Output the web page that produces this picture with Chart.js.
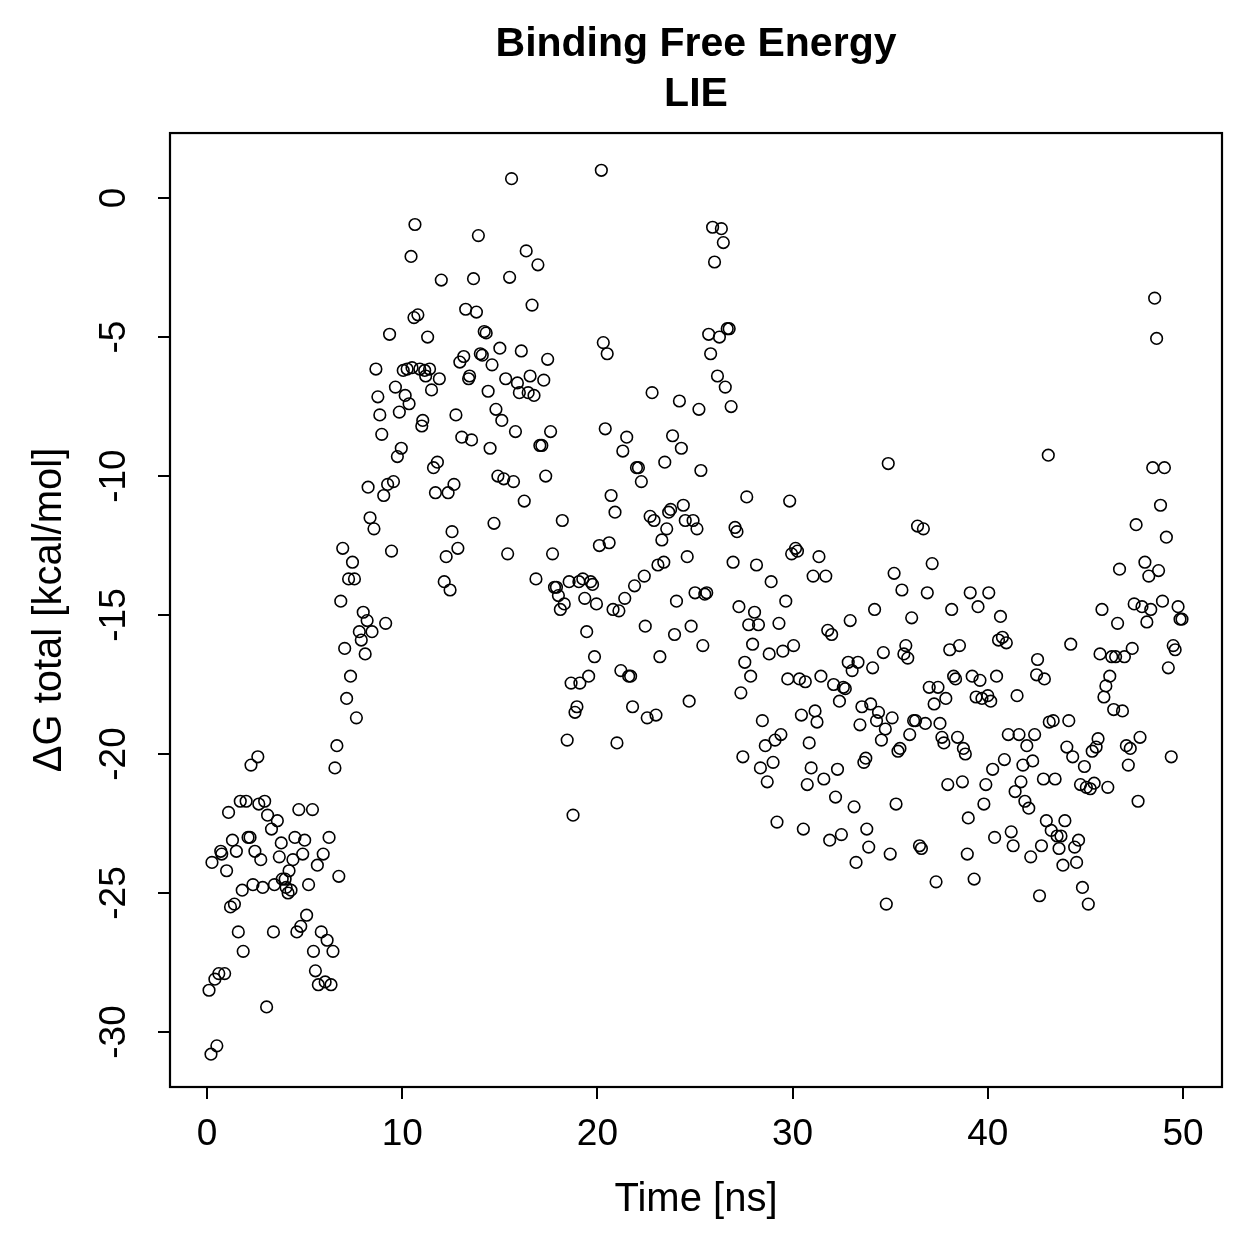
<!DOCTYPE html>
<html>
<head>
<meta charset="utf-8">
<title>Binding Free Energy - LIE</title>
<script src="https://cdn.jsdelivr.net/npm/chart.js@4.4.1/dist/chart.umd.min.js"></script>
<style>
  html, body { margin: 0; padding: 0; background: #fff; }
  #wrap { width: 1259px; height: 1259px; }
</style>
</head>
<body>
<div id="wrap"><canvas id="lie" width="1259" height="1259"></canvas></div>
<script>
  "use strict";

  // simulation time [ns]
  var timeNs = [
    0.1,0.2,0.25,0.4,0.5,0.6,0.7,0.75,0.9,1.0,
    1.1,1.2,1.3,1.4,1.5,1.6,1.7,1.8,1.85,2.0,
    2.1,2.2,2.25,2.35,2.45,2.6,2.65,2.75,2.85,2.95,
    3.05,3.1,3.3,3.4,3.45,3.6,3.7,3.8,3.85,4.0,
    4.05,4.15,4.2,4.3,4.4,4.5,4.6,4.7,4.8,4.9,
    5.0,5.1,5.2,5.4,5.45,5.55,5.65,5.7,5.85,5.95,
    6.05,6.15,6.25,6.35,6.45,6.55,6.65,6.75,6.85,6.95,
    7.05,7.15,7.25,7.35,7.45,7.55,7.65,7.8,7.9,8.0,
    8.1,8.2,8.25,8.35,8.45,8.55,8.65,8.75,8.85,8.95,
    9.05,9.15,9.25,9.35,9.45,9.55,9.65,9.75,9.85,9.95,
    10.05,10.15,10.25,10.35,10.45,10.5,10.6,10.65,10.8,10.9,
    11.0,11.05,11.15,11.2,11.3,11.4,11.5,11.6,11.7,11.8,
    11.9,12.0,12.15,12.25,12.35,12.45,12.55,12.65,12.75,12.85,
    12.95,13.05,13.15,13.25,13.4,13.45,13.55,13.65,13.8,13.9,
    14.0,14.1,14.2,14.3,14.4,14.5,14.6,14.7,14.8,14.9,
    15.0,15.1,15.2,15.3,15.4,15.5,15.6,15.7,15.8,15.9,
    16.0,16.1,16.25,16.35,16.45,16.55,16.65,16.75,16.85,16.95,
    17.05,17.15,17.25,17.35,17.45,17.6,17.7,
    17.8,17.9,18.0,18.1,18.2,18.3,18.45,18.55,18.65,18.75,
    18.85,18.95,19.05,19.1,19.25,19.35,19.45,19.55,19.65,19.75,
    19.85,19.95,20.1,20.2,20.3,20.4,20.5,20.6,20.7,20.8,
    20.9,21.0,21.1,21.2,21.3,21.4,21.5,21.6,21.7,21.8,
    21.9,22.0,22.1,22.25,22.4,22.45,22.55,22.7,22.8,22.9,
    23.0,23.1,23.2,23.3,23.4,23.45,23.55,23.65,23.75,23.85,
    23.95,24.05,24.2,24.3,24.4,24.5,24.6,24.7,24.8,24.9,
    25.0,25.1,25.2,25.3,25.4,25.5,25.6,25.7,25.8,25.9,
    26.0,26.15,26.25,26.35,26.45,26.55,26.65,26.75,26.85,26.95,
    27.05,27.15,
    27.25,27.35,27.45,27.55,27.65,27.75,27.85,27.95,28.05,28.15,
    28.25,28.35,28.45,28.6,28.7,28.8,28.9,29.0,29.1,29.2,
    29.3,29.4,29.5,29.65,29.75,29.85,29.95,30.05,30.15,30.25,
    30.35,30.45,30.55,30.65,30.75,30.85,30.95,31.05,31.15,31.25,
    31.35,31.45,31.6,31.7,31.8,31.9,32.0,32.1,32.2,32.3,
    32.4,32.5,32.6,32.7,32.85,32.95,33.05,33.15,33.25,33.35,
    33.45,33.55,33.65,33.75,33.8,33.9,34.0,34.1,34.2,34.3,
    34.4,34.55,34.65,34.75,34.8,34.9,35.0,35.1,35.2,35.3,
    35.4,35.5,35.6,35.7,35.8,35.9,36.0,36.1,36.2,36.3,
    36.4,36.5,36.6,36.7,36.8,36.9,37.0,
    37.15,37.25,37.35,37.45,37.55,37.65,37.75,37.85,37.95,38.05,
    38.15,38.25,38.35,38.45,38.55,38.7,38.75,38.85,38.95,39.0,
    39.1,39.2,39.3,39.4,39.5,39.6,39.7,39.8,39.9,40.0,
    40.05,40.15,40.25,40.35,40.45,40.55,40.65,40.75,40.85,40.95,
    41.05,41.2,41.3,41.4,41.5,41.6,41.7,41.8,41.9,42.0,
    42.1,42.2,42.3,42.4,42.5,42.55,42.65,42.75,42.85,42.9,
    43.0,43.1,43.15,43.25,43.35,43.45,43.55,43.65,43.75,43.85,
    43.95,44.05,44.15,44.25,44.35,44.45,44.55,44.65,44.75,44.85,
    44.95,45.05,45.15,45.25,45.35,45.45,45.55,45.65,45.75,45.85,
    45.95,46.05,46.15,46.25,46.35,46.45,46.55,46.65,46.75,46.9,
    47.0,47.1,47.2,47.3,47.4,47.5,47.6,47.7,47.8,47.9,
    48.05,48.15,48.25,48.35,48.45,48.55,48.65,48.75,48.85,48.95,
    49.05,49.15,49.25,49.4,49.5,49.6,49.75,49.85,49.95
  ];

  // ΔG total [kcal/mol], same order as timeNs
  var dGTotal = [
    -28.5,-30.8,-23.9,-28.1,-30.5,-27.9,-23.5,-23.6,-27.9,-24.2,
    -22.1,-25.5,-23.1,-25.4,-23.5,-26.4,-21.7,-24.9,-27.1,-21.7,
    -23.0,-23.0,-20.4,-24.7,-23.5,-20.1,-21.8,-23.8,-24.8,-21.7,
    -29.1,-22.2,-22.7,-26.4,-24.7,-22.4,-23.7,-23.2,-24.5,-24.5,
    -24.8,-25.0,-24.2,-24.9,-23.8,-23.0,-26.4,-22.0,-26.2,-23.6,
    -23.1,-25.8,-24.7,-22.0,-27.1,-27.8,-24.0,-28.3,-26.4,-23.6,
    -28.2,-26.7,-23.0,-28.3,-27.1,-20.5,-19.7,-24.4,-14.5,-12.6,
    -16.2,-18.0,-13.7,-17.2,-13.1,-13.7,-18.7,-15.6,-15.9,-14.9,
    -16.4,-15.2,-10.4,-11.5,-15.6,-11.9,-6.15,-7.15,-7.8,-8.5,
    -10.7,-15.3,-10.3,-4.9,-12.7,-10.2,-6.8,-9.3,-7.7,-9.0,
    -6.2,-7.1,-6.15,-7.4,-2.1,-6.1,-4.3,-0.95,-4.2,-6.15,
    -8.2,-8.0,-6.2,-6.4,-5.0,-6.15,-6.9,-9.7,-10.6,-9.5,
    -6.5,-2.95,-13.8,-12.9,-10.6,-14.1,-12.0,-10.3,-7.8,-12.6,
    -5.9,-8.6,-5.7,-4.0,-6.5,-6.4,-8.7,-2.9,-4.1,-1.35,
    -5.6,-5.65,-4.8,-4.85,-6.95,-9.0,-6.0,-11.7,-7.6,-10.0,
    -5.4,-8.0,-10.1,-6.5,-12.8,-2.85,0.7,-10.2,-8.4,-6.65,
    -7.0,-5.5,-10.9,-1.9,-7.0,-6.4,-3.85,-7.1,-13.7,-2.4,
    -8.9,-8.9,-6.55,-10.0,-5.8,-8.4,-12.8,
    -14.0,-14.0,-14.3,-14.8,-11.6,-14.6,-19.5,-13.8,-17.45,-22.2,
    -18.5,-18.3,-13.8,-17.45,-13.7,-14.4,-15.6,-17.2,-13.8,-13.9,
    -16.5,-14.6,-12.5,1.0,-5.2,-8.3,-5.6,-12.4,-10.7,-14.8,
    -11.3,-19.6,-14.85,-17.0,-9.1,-14.4,-8.6,-17.2,-17.2,-18.3,
    -13.95,-9.7,-9.7,-10.2,-13.6,-15.4,-18.7,-11.45,-7.0,-11.6,
    -18.6,-13.2,-16.5,-12.3,-13.1,-9.5,-11.9,-11.3,-11.2,-8.55,
    -15.7,-14.5,-7.3,-9.0,-11.05,-11.6,-12.9,-18.1,-15.4,-11.6,
    -14.2,-11.9,-7.6,-9.8,-16.1,-14.25,-14.2,-4.9,-5.6,-1.05,
    -2.3,-6.4,-5.0,-1.1,-1.6,-6.8,-4.7,-4.7,-7.5,-13.1,
    -11.85,-12.0,
    -14.7,-17.8,-20.1,-16.7,-10.75,-15.35,-17.2,-16.05,-14.9,-13.2,
    -15.35,-20.5,-18.8,-19.7,-21.0,-16.4,-13.8,-20.3,-19.5,-22.45,
    -15.3,-19.3,-16.3,-14.5,-17.3,-10.9,-12.8,-16.1,-12.6,-12.7,
    -17.3,-18.6,-22.7,-17.4,-21.1,-19.6,-20.5,-13.6,-18.45,-18.85,
    -12.9,-17.2,-20.9,-13.6,-15.55,-23.1,-15.7,-17.5,-21.55,-20.55,
    -18.1,-22.9,-17.6,-17.65,-16.7,-15.2,-17.0,-21.9,-23.9,-16.7,
    -18.95,-18.3,-20.3,-20.15,-22.7,-23.35,-18.2,-16.9,-14.8,-18.8,
    -18.5,-19.5,-16.35,-19.1,-25.4,-9.55,-23.6,-18.7,-13.5,-21.8,
    -19.9,-19.8,-14.1,-16.4,-16.1,-16.55,-19.3,-15.1,-18.8,-18.8,
    -11.8,-23.3,-23.4,-11.9,-18.9,-14.2,-17.6,
    -13.15,-18.2,-24.6,-17.6,-18.9,-19.4,-19.6,-18.0,-21.1,-16.25,
    -14.8,-17.2,-17.3,-19.4,-16.1,-21.0,-19.8,-20.0,-23.6,-22.3,
    -14.2,-17.2,-24.5,-17.95,-14.7,-17.35,-18.0,-21.8,-21.1,-17.9,
    -14.2,-18.1,-20.55,-23.0,-17.2,-15.9,-15.05,-15.8,-20.2,-16.0,
    -19.3,-22.8,-23.3,-21.35,-17.9,-19.3,-21.0,-20.4,-21.7,-19.7,
    -21.95,-23.7,-20.25,-19.3,-17.15,-16.6,-25.1,-23.3,-20.9,-17.3,
    -22.4,-9.25,-18.85,-22.75,-18.8,-20.9,-22.95,-23.4,-22.95,-24.0,
    -22.4,-19.75,-18.8,-16.05,-20.1,-23.35,-23.9,-23.1,-21.1,-24.8,
    -20.45,-21.2,-25.4,-21.25,-19.9,-21.05,-19.75,-19.45,-16.4,-14.8,
    -17.95,-17.55,-21.2,-17.2,-16.5,-18.4,-16.5,-15.3,-13.35,-18.45,
    -16.5,-19.7,-20.4,-19.8,-16.2,-14.6,-11.75,-21.7,-19.4,-14.7,
    -13.1,-15.25,-13.6,-14.8,-9.7,-3.6,-5.05,-13.4,-11.05,-14.5,
    -9.7,-12.2,-16.9,-20.1,-16.1,-16.25,-14.7,-15.15,-15.15
  ];

  var xTicks = [0, 10, 20, 30, 40, 50];
  var yTicks = [0, -5, -10, -15, -20, -25, -30];

  var FONT = '"Liberation Sans", Arial, Helvetica, sans-serif';

  var points = timeNs.map(function(t, i) {
    return { x: t, y: dGTotal[i] };
  });

  // R-style box around the plot region
  var plotBox = {
    id: 'plotBox',
    afterDraw: function(chart) {
      var a = chart.chartArea;
      var ctx = chart.ctx;
      ctx.save();
      ctx.strokeStyle = '#000';
      ctx.lineWidth = 2.2;
      ctx.strokeRect(a.left, a.top, a.right - a.left, a.bottom - a.top);
      ctx.restore();
    }
  };

  var tickGrid = {
    display: true,
    drawOnChartArea: false,
    drawTicks: true,
    tickLength: 12,
    tickWidth: 2,
    tickColor: '#000',
    color: '#000',
    lineWidth: 2
  };

  new Chart(document.getElementById('lie'), {
    type: 'scatter',
    data: {
      datasets: [{
        data: points,
        pointStyle: 'circle',
        pointRadius: 5.8,
        borderWidth: 1.6,
        borderColor: '#000',
        backgroundColor: 'rgba(0,0,0,0)'
      }]
    },
    options: {
      responsive: false,
      animation: false,
      devicePixelRatio: 1,
      events: [],
      layout: { padding: { left: 0, right: 37, top: 0, bottom: 0 } },
      plugins: {
        legend: { display: false },
        tooltip: { enabled: false },
        title: {
          display: true,
          fullSize: false,
          text: ['Binding Free Energy', 'LIE'],
          color: '#000',
          font: { family: FONT, size: 41, weight: 'bold', lineHeight: 1.22 },
          padding: { top: 20, bottom: 13 }
        }
      },
      scales: {
        x: {
          type: 'linear',
          position: 'bottom',
          min: -1.9,
          max: 52.0,
          afterBuildTicks: function(s) {
            s.ticks = xTicks.map(function(v) { return { value: v }; });
          },
          afterFit: function(s) { s.height = 172; },
          grid: tickGrid,
          border: { display: false },
          ticks: {
            color: '#000',
            font: { family: FONT, size: 37 },
            padding: 14,
            autoSkip: false,
            minRotation: 0,
            maxRotation: 0
          },
          title: {
            display: true,
            text: 'Time [ns]',
            color: '#000',
            font: { family: FONT, size: 40 },
            padding: { top: 0, bottom: 35 }
          }
        },
        y: {
          type: 'linear',
          position: 'left',
          min: -31.98,
          max: 2.34,
          afterBuildTicks: function(s) {
            s.ticks = yTicks.map(function(v) { return { value: v }; });
          },
          afterFit: function(s) { s.width = 170; },
          grid: tickGrid,
          border: { display: false },
          ticks: {
            color: '#000',
            font: { family: FONT, size: 37 },
            padding: 16,
            autoSkip: false,
            minRotation: 90,
            maxRotation: 90,
            crossAlign: 'center'
          },
          title: {
            display: true,
            text: 'ΔG total [kcal/mol]',
            color: '#000',
            font: { family: FONT, size: 40 },
            padding: { top: 26, bottom: 0 }
          }
        }
      }
    },
    plugins: [plotBox]
  });
</script>
</body>
</html>
